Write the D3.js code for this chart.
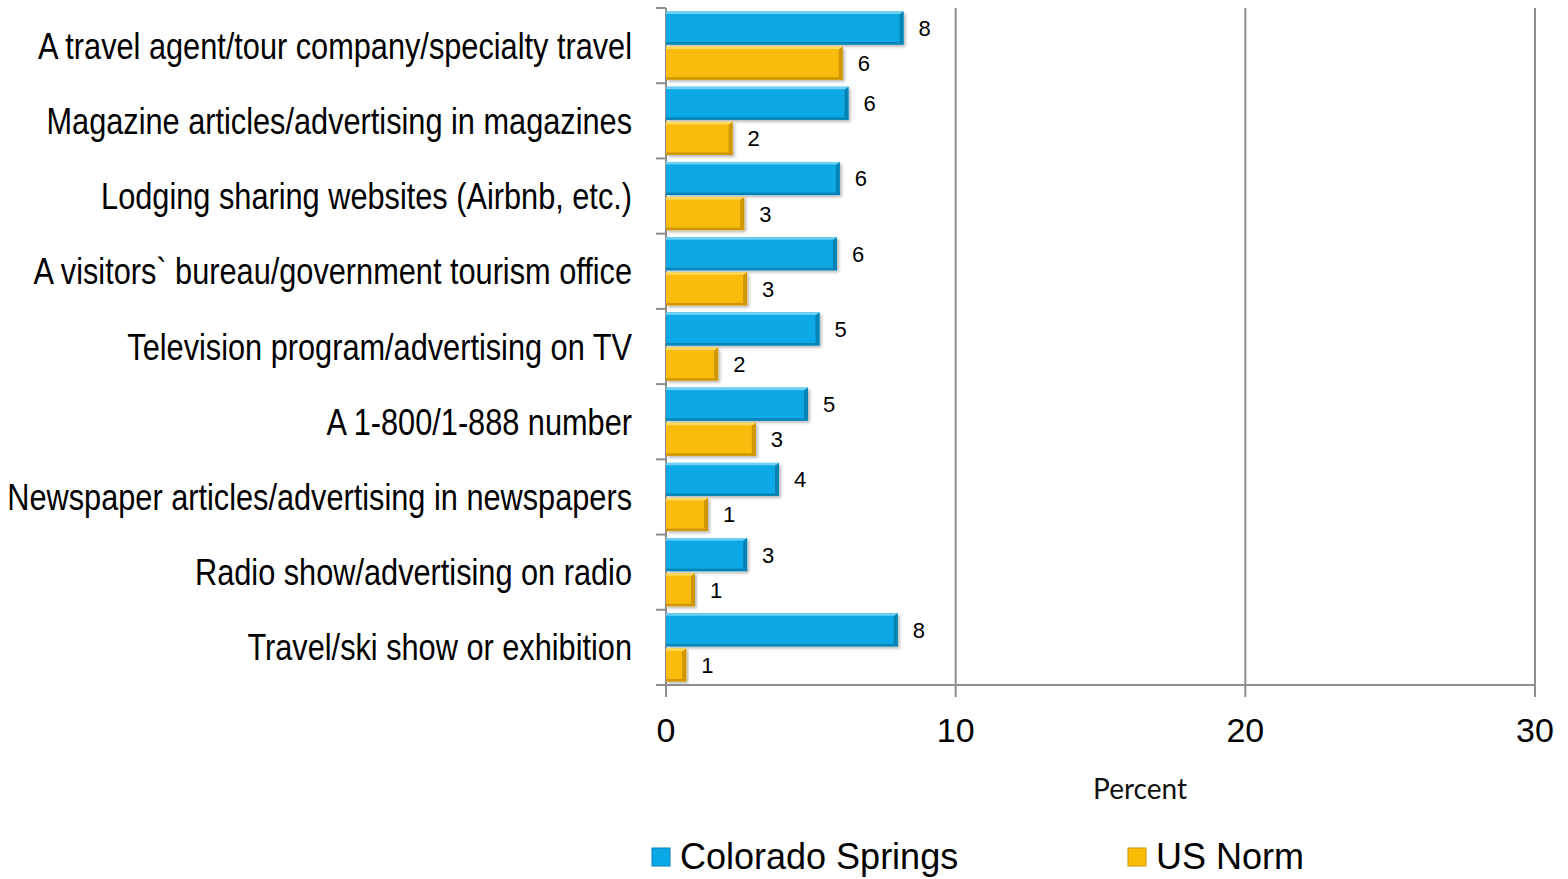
<!DOCTYPE html>
<html>
<head>
<meta charset="utf-8">
<script src="https://cdn.jsdelivr.net/npm/d3@7"></script>
<style>
  html, body { margin: 0; padding: 0; background: #ffffff; }
  svg { display: block; }
</style>
</head>
<body>
<svg id="chart" width="1568" height="879"></svg>
<script>
// Information sources used, percent of respondents
const categories = [
  "A travel agent/tour company/specialty travel",
  "Magazine articles/advertising in magazines",
  "Lodging sharing websites (Airbnb, etc.)",
  "A visitors` bureau/government tourism office",
  "Television program/advertising on TV",
  "A 1-800/1-888 number",
  "Newspaper articles/advertising in newspapers",
  "Radio show/advertising on radio",
  "Travel/ski show or exhibition"
];
const seriesNames = ["Colorado Springs", "US Norm"];
const coloradoSprings = [8.2, 6.3, 6.0, 5.9, 5.3, 4.9, 3.9, 2.8, 8.0];
const usNorm = [6.1, 2.3, 2.7, 2.8, 1.8, 3.1, 1.45, 1.0, 0.7];
const xTicks = [0, 10, 20, 30];
const axisTitle = "Percent";

const palette = {
  "Colorado Springs": { base: "#08a9e6", light: "#6fd0f4", dark: "#0683b5" },
  "US Norm":          { base: "#f9bc07", light: "#ffd95e", dark: "#cf9600" }
};

const svg = d3.select("#chart");
const plotLeft = 666, plotRight = 1535, plotTop = 8, plotBottom = 685;

const x = d3.scaleLinear().domain([0, 30]).range([plotLeft, plotRight]);
const y = d3.scaleBand().domain(categories).range([plotTop, plotBottom]);
const inner = d3.scaleBand().domain(seriesNames)
  .range([0, y.bandwidth()]).paddingOuter(0.1).paddingInner(0.057);

const rows = categories.map((c, i) => ({
  category: c,
  values: [
    { series: seriesNames[0], value: coloradoSprings[i] },
    { series: seriesNames[1], value: usNorm[i] }
  ]
}));

const defs = svg.append("defs");
const shadow = defs.append("filter").attr("id", "shadow")
  .attr("x", "-5%").attr("y", "-20%").attr("width", "115%").attr("height", "160%");
shadow.append("feDropShadow").attr("dx", 2).attr("dy", 2)
  .attr("stdDeviation", 1.5).attr("flood-color", "#000").attr("flood-opacity", 0.28);

const axisColor = "#8e8e8e";

// Vertical gridlines
svg.append("g").selectAll("line")
  .data(xTicks.filter(t => t > 0))
  .join("line")
  .attr("x1", d => x(d)).attr("x2", d => x(d))
  .attr("y1", plotTop).attr("y2", plotBottom)
  .attr("stroke", axisColor).attr("stroke-width", 2);

// Category axis line and separators
const yAxis = svg.append("g");
yAxis.append("line")
  .attr("x1", plotLeft).attr("x2", plotLeft).attr("y1", plotTop).attr("y2", plotBottom + 12)
  .attr("stroke", axisColor).attr("stroke-width", 2);
yAxis.selectAll("line.tick")
  .data(categories.map(c => y(c)).concat([plotBottom]))
  .join("line").attr("class", "tick")
  .attr("x1", plotLeft - 10).attr("x2", plotLeft)
  .attr("y1", d => d).attr("y2", d => d)
  .attr("stroke", axisColor).attr("stroke-width", 2);

// Bars
const groups = svg.append("g").selectAll("g")
  .data(rows)
  .join("g")
  .attr("transform", d => `translate(0,${y(d.category)})`);

const bars = groups.selectAll("g.bar")
  .data(d => d.values)
  .join("g").attr("class", "bar");

bars.append("rect")
  .attr("x", x(0))
  .attr("y", d => inner(d.series))
  .attr("width", d => x(d.value) - x(0))
  .attr("height", inner.bandwidth())
  .attr("fill", d => palette[d.series].base)
  .attr("filter", "url(#shadow)");

// bevel: light top edge, dark bottom and right edges
bars.append("rect")
  .attr("x", x(0))
  .attr("y", d => inner(d.series))
  .attr("width", d => x(d.value) - x(0))
  .attr("height", 2.5)
  .attr("fill", d => palette[d.series].light);
bars.append("rect")
  .attr("x", x(0))
  .attr("y", d => inner(d.series) + inner.bandwidth() - 2.5)
  .attr("width", d => x(d.value) - x(0))
  .attr("height", 2.5)
  .attr("fill", d => palette[d.series].dark);
bars.append("path")
  .attr("d", d => {
    const x1 = x(d.value), y0 = inner(d.series), h = inner.bandwidth();
    return `M${x1},${y0} L${x1},${y0 + h} L${x1 - 4},${y0 + h - 3} L${x1 - 4},${y0 + 3} Z`;
  })
  .attr("fill", d => palette[d.series].dark);

// Value labels
bars.append("text")
  .attr("x", d => x(d.value) + 15)
  .attr("y", d => inner(d.series) + inner.bandwidth() / 2 + 8)
  .attr("font-family", "'Liberation Sans', Arial, sans-serif")
  .attr("font-size", 22)
  .attr("fill", "#000")
  .text(d => d3.format(".0f")(d.value));

// Category labels (condensed sans)
yAxis.selectAll("text")
  .data(categories)
  .join("text")
  .attr("transform", d => `translate(632,${y(d) + y.bandwidth() / 2 + 13}) scale(0.83,1)`)
  .attr("text-anchor", "end")
  .attr("font-family", "'Liberation Sans', Arial, sans-serif")
  .attr("font-size", 37)
  .attr("fill", "#000")
  .text(d => d);

// Value axis
const xAxis = svg.append("g");
xAxis.append("line")
  .attr("x1", plotLeft).attr("x2", plotRight).attr("y1", plotBottom).attr("y2", plotBottom)
  .attr("stroke", axisColor).attr("stroke-width", 2);
xAxis.selectAll("line.tick")
  .data(xTicks)
  .join("line").attr("class", "tick")
  .attr("x1", d => x(d)).attr("x2", d => x(d))
  .attr("y1", plotBottom).attr("y2", plotBottom + 12)
  .attr("stroke", axisColor).attr("stroke-width", 2);
xAxis.selectAll("text")
  .data(xTicks)
  .join("text")
  .attr("x", d => x(d))
  .attr("y", 742)
  .attr("text-anchor", "middle")
  .attr("font-family", "'Liberation Sans', Arial, sans-serif")
  .attr("font-size", 34)
  .attr("fill", "#000")
  .text(d => d);

svg.append("text")
  .attr("x", 1140).attr("y", 799)
  .attr("text-anchor", "middle")
  .attr("font-family", "Lato, 'Open Sans', sans-serif")
  .attr("font-size", 28)
  .attr("fill", "#111")
  .text(axisTitle);

// Legend
const legendX = [652, 1128];
const legend = svg.append("g").selectAll("g")
  .data(seriesNames)
  .join("g")
  .attr("transform", (d, i) => `translate(${legendX[i]},848)`);
legend.append("rect")
  .attr("width", 18).attr("height", 18)
  .attr("fill", d => palette[d].base)
  .attr("stroke", d => palette[d].dark).attr("stroke-width", 1);
legend.append("text")
  .attr("x", 28).attr("y", 21)
  .attr("font-family", "'Liberation Sans', Arial, sans-serif")
  .attr("font-size", 36)
  .attr("fill", "#000")
  .text(d => d);
</script>
</body>
</html>
